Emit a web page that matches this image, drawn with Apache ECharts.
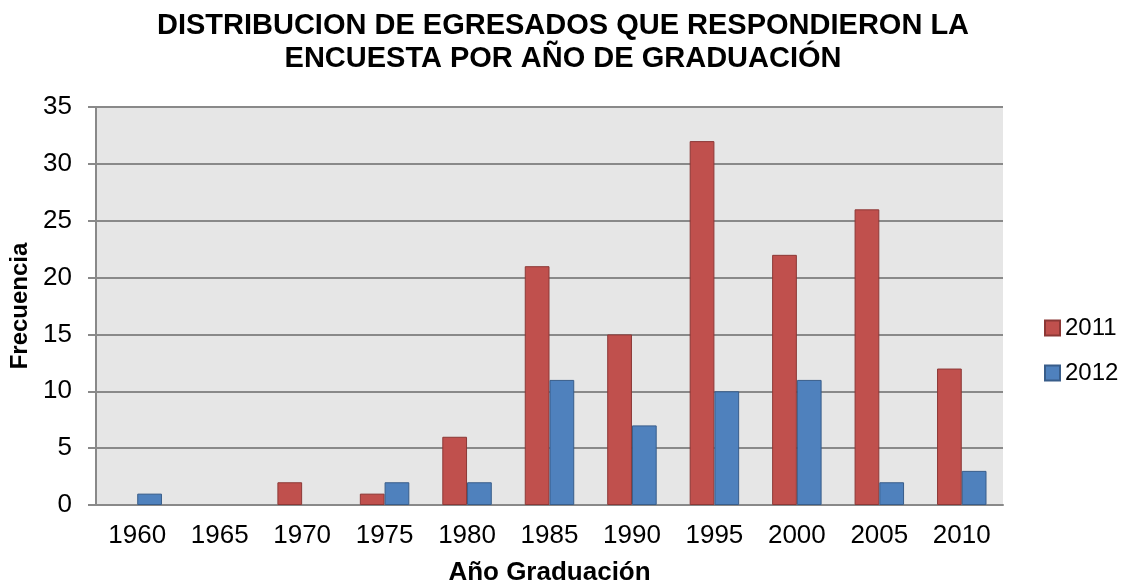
<!DOCTYPE html>
<html>
<head>
<meta charset="utf-8">
<script src="https://cdn.jsdelivr.net/npm/echarts@6/dist/echarts.min.js"></script>
<style>
  html, body { margin: 0; padding: 0; background: #fff; }
  #chart { width: 1127px; height: 586px; }
</style>
</head>
<body>
<div id="chart"></div>
<script>
// año de graduación
const years = ['1960', '1965', '1970', '1975', '1980', '1985', '1990', '1995', '2000', '2005', '2010']
const values2011 = [0, 0, 2, 1, 6, 21, 15, 32, 22, 26, 12]
const values2012 = [1, 0, 0, 2, 2, 11, 7, 10, 11, 2, 3]
const yTicks = [0, 5, 10, 15, 20, 25, 30, 35]

const font = 'Liberation Sans, Arial, sans-serif'
// zero frequencies draw no bar in the original
const noZero = arr => arr.map(v => (v === 0 ? '-' : v))

const chart = echarts.init(document.getElementById('chart'))

chart.setOption({
  animation: false,
  textStyle: { fontFamily: font },
  title: {
    text: 'DISTRIBUCION DE EGRESADOS QUE RESPONDIERON LA\nENCUESTA POR AÑO DE GRADUACIÓN',
    left: 563,
    top: 9,
    padding: 0,
    textAlign: 'center',
    textStyle: { fontSize: 29, fontWeight: 'bold', color: '#000', lineHeight: 33, fontFamily: font }
  },
  legend: {
    orient: 'vertical',
    left: 1044,
    top: 316,
    padding: 0,
    itemWidth: 15,
    itemHeight: 15,
    itemGap: 21,
    icon: 'rect',
    textStyle: { fontSize: 24, color: '#000', fontFamily: font },
    data: ['2011', '2012']
  },
  grid: {
    left: 96,
    right: 124,
    top: 107,
    bottom: 81,
    outerBoundsMode: 'none',
    show: true,
    backgroundColor: '#e6e6e6',
    borderWidth: 0
  },
  xAxis: {
    type: 'category',
    data: years,
    name: 'Año Graduación',
    nameLocation: 'middle',
    nameGap: 55,
    nameTextStyle: { fontSize: 26, fontWeight: 'bold', color: '#000', fontFamily: font },
    axisLine: { lineStyle: { color: '#898989', width: 2 } },
    axisTick: { show: false },
    axisLabel: { fontSize: 26, color: '#000', margin: 18, fontFamily: font }
  },
  yAxis: {
    type: 'value',
    min: yTicks[0],
    max: yTicks[yTicks.length - 1],
    interval: 5,
    name: 'Frecuencia',
    nameLocation: 'middle',
    nameGap: 62,
    nameTextStyle: { fontSize: 24, fontWeight: 'bold', color: '#000', fontFamily: font },
    axisLine: { show: true, lineStyle: { color: '#898989', width: 2 } },
    axisTick: { show: true, length: 8, lineStyle: { color: '#898989', width: 2 } },
    axisLabel: { fontSize: 26, color: '#000', margin: 24, fontFamily: font },
    splitLine: { lineStyle: { color: '#898989', width: 2 } }
  },
  series: [
    {
      name: '2011',
      type: 'bar',
      data: noZero(values2011),
      barGap: '0%',
      barCategoryGap: '40%',
      itemStyle: { color: '#c0504d', borderColor: '#8c3836', borderWidth: 1 }
    },
    {
      name: '2012',
      type: 'bar',
      data: noZero(values2012),
      barGap: '0%',
      barCategoryGap: '40%',
      itemStyle: { color: '#4f81bd', borderColor: '#385d8a', borderWidth: 1 }
    }
  ]
})
</script>
</body>
</html>
